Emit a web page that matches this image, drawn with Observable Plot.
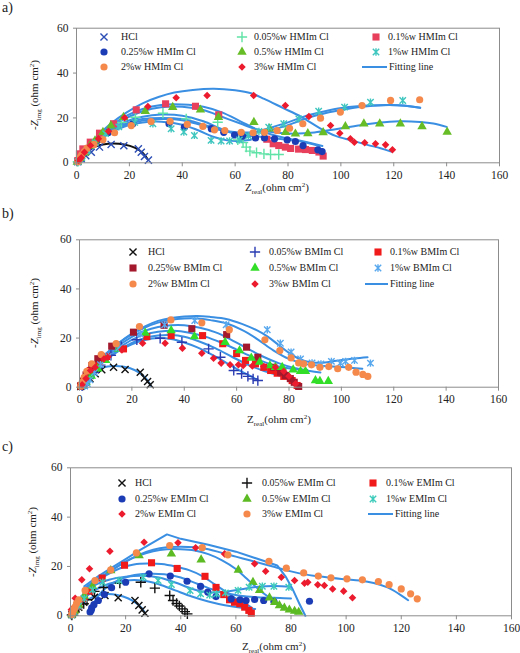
<!DOCTYPE html>
<html><head><meta charset="utf-8">
<script src="https://cdn.jsdelivr.net/npm/d3@7"></script>
<script src="https://cdn.jsdelivr.net/npm/@observablehq/plot@0.6"></script>
<style>
html,body{margin:0;padding:0;background:#fff;}
#root{position:relative;width:520px;height:653px;overflow:hidden;font-family:"Liberation Serif","Times New Roman",serif;color:#222;}
.abs{position:absolute;white-space:nowrap;}
.plab{font-size:14px;line-height:16px;}
.xt{font-size:11px;line-height:14px;transform:translateY(-50%);}
.yt{font-size:11px;line-height:14px;transform:translate(-50%,-50%) rotate(-90deg);}
.t sub{font-size:7px;vertical-align:-3px;}
.t sup{font-size:7px;vertical-align:4px;}
.leg{font-size:10px;line-height:14px;transform:translateY(-50%);}
</style></head>
<body><div id="root"></div>
<script>
// ---------- ticks ----------
const xTicks = [0,20,40,60,80,100,120,140,160];
const yTicks = [0,20,40,60];

// ---------- panel a (HMIm Cl) ----------
const a_HCl = [[0.5,0.5],[1.8,1.8],[3.5,3.2],[5.6,4.7],[8.7,7],[13.1,8.2],[17.9,7.6],[23.4,6.2],[24.5,4.7],[25.7,2.8],[27.2,1.2]];
const a_005 = [[0.5,0.5],[1.5,2],[3,4],[5,7],[8,10],[12,14],[17,18],[22.3,20.3],[32.7,22.1],[41.5,19.6],[53.4,18.1],[61,10.2],[63,9],[64.2,7],[65.6,5.2],[68.1,4.5],[70.9,4],[73.4,3.7],[76.5,3.7]];
const a_01 = [[0.5,1],[1.1,4],[2.4,6.2],[5.2,9.2],[8.7,13.2],[14,17.4],[22.6,23.6],[33.7,26.3],[45,25.2],[53.8,21.4],[72,10.5],[74.4,8.5],[76.5,7.7],[79,7],[81,6.4],[84,6.1],[86.6,5.9],[89.2,5.5],[91.7,4.8],[93.3,3]];
const a_025 = [[0.5,0.5],[1.5,2],[3,4.5],[5,7],[8,10],[12,13.5],[21.3,17.4],[35,17.4],[40.8,15.9],[51,15.2],[55.7,13.6],[59.8,12.4],[62.9,11.9],[67.7,11.1],[71.1,11.1],[74.9,10.7],[79.7,10.2],[82.8,9.5],[85.7,7.7],[91.3,5.8],[92.9,5]];
const a_05 = [[0.3,0.3],[1.5,2],[3,4.5],[5,7.5],[7,9.9],[10,13.6],[13,16.5],[17.8,20.3],[26,23],[36.4,24.8],[46.9,23.6],[53.7,20.3],[67.1,18.1],[73,15.2],[79.1,13.6],[82.8,12.9],[87.5,13.1],[93.3,13.5],[101.7,16.2],[108.7,17.4],[114.7,17.4],[122.5,17.4],[130.7,16.2],[140.2,13.7]];
const a_1 = [[0.5,0.5],[2,2.5],[4,5.5],[7,9],[11,13],[16,16],[22,18],[28.9,17.4],[35.8,15.2],[40.6,13.7],[44.6,12.2],[50.9,10],[54.7,9.7],[57.9,9.7],[61.6,10.2],[65,12],[69,14],[72.7,15.9],[78.4,17.4],[84.1,19.6],[91.6,23],[101.4,24.8],[111.2,27],[123.4,27.8]];
const a_2 = [[0.5,0.5],[1,1.5],[1.5,2.5],[2,3.5],[3,5],[4,6.5],[6.6,8.2],[10,10.3],[14.4,13.4],[20.7,16.6],[28.2,18.4],[35.4,18.5],[41.9,17.1],[47.8,16.2],[52.2,14.7],[56.1,14.4],[62.3,13.6],[66.8,13.4],[71.1,13.6],[75.9,14.4],[80.6,15.4],[85.6,17.4],[92.3,19.9],[99.8,22.6],[108,25.5],[118.8,27.8],[129.8,28.1]];
const a_3 = [[0.8,1],[1.8,2.2],[3,4.7],[5.3,7.7],[8.3,10.7],[12.1,14.1],[18.2,20.1],[27,25.1],[37.7,29],[49.4,30],[67,30],[79,25.5],[87.9,20.6],[96.1,16.6],[99.6,13.2],[103.6,10.7],[105.1,9.2],[109,8.9],[113.1,8.5],[116.9,8],[119.5,5.8]];
const fa_HCl = [[1,0.5],[3,4],[6,6.8],[10,8.2],[14,8.6],[18,8.2],[22,6.8],[25,4.5],[27,1.5]];
const fa_3 = [[0,0],[4,6.5],[8,12],[13,17.5],[19,22.5],[25,26.5],[31,29.3],[37,31.3],[44,32.5],[52,33],[60,32.3],[66,31],[71,28.5],[78,24.5],[85,20.5],[92,15.5],[98,12],[104,10],[110,8],[115,6.5],[119,5]];
const fa_01 = [[0,0],[4,6.5],[8,11.5],[13,16.5],[19,21],[25,24],[32,25.8],[40,26],[48,25],[55,22.5],[62,18.5],[68,15],[74,12.5],[80,10.8],[86,9.5],[93,7.5]];
const fa_05 = [[0,0],[4,6.5],[8,11],[13,16],[19,20],[25,23],[32,24.8],[40,25],[48,23.5],[55,20.5],[62,17.5],[68,15],[75,13.5],[82,13],[90,13.5],[98,15],[106,16.5],[114,17.8],[122,18.5],[130,18.2],[135,17.5],[140,16]];
const fa_1 = [[0,0],[4,6],[8,10.5],[13,15],[19,18.5],[25,20.5],[32,21.5],[40,21],[48,18.5],[55,15],[61,13],[67,13.5],[73,15.5],[80,18],[87,21],[94,23],[101,24.5],[110,25.5],[118,25.8],[125,25.3],[130,24.5]];
const fa_2 = [[0,0],[4,6],[8,10],[13,14],[19,17],[25,18.8],[32,19.5],[40,19],[48,16.5],[55,14.5],[62,13.5],[70,14],[78,16],[85,19],[92,21.5],[100,23.5],[108,25],[116,25.7],[124,25.5],[130,24.5]];
const fa_025 = [[0,0],[4,5.5],[8,10],[13,14.5],[19,17.5],[25,19.5],[32,20],[40,19.5],[48,17],[55,14.5],[62,12.5],[70,11.5],[78,10.5],[85,9.5],[92,7.5]];
const fa_005 = [[0,0],[4,5.5],[8,9.5],[13,13.5],[19,16.5],[25,18],[32,18.3],[40,17],[46,14.5],[52,11.5],[57,10],[62,9.8],[66,10.3]];

// ---------- panel b (BMIm Cl) ----------
const b_HCl = [[0.5,0.3],[1.5,1],[2.5,2],[4,3.5],[6,5.5],[8.5,7.1],[13,8.1],[17.4,7.2],[23.2,6.1],[24.8,3.8],[26,2.3],[27,1]];
const b_005 = [[1,0.5],[2,1.5],[3.5,3.5],[5.5,6],[8,9],[12,13],[16,16.5],[21.9,19.3],[30.8,19.9],[39.1,18.3],[49.3,15.6],[53.8,12.2],[58.9,6.8],[61.9,5.5],[64.3,4.4],[66.3,3.4],[68.1,2.7]];
const b_01 = [[0.5,0.5],[1.5,2],[2.8,4.8],[4.1,6.8],[7.3,10.2],[10.7,12.5],[16.8,15.6],[25.7,20.6],[35,21],[47,21],[54.7,17.7],[60,13.7],[63.4,10.9],[67.2,9.5],[70.4,8.1],[73,6.8],[75.5,5.7],[78,4.4],[81.2,2.7],[83.1,0.7]];
const b_025 = [[0.5,0.5],[1.5,2.5],[2.5,5],[4.7,8.8],[7,11.6],[12.3,16.7],[20.6,22.4],[32.3,25.2],[42.9,23.8],[56.2,21.4],[63.8,16.3],[68.1,12.2],[74.2,8.1],[76.8,6.1],[78.7,4.8],[80.5,3.5],[82,2],[83.7,0.3]];
const b_05 = [[1,0.5],[2.5,2],[4.5,4.5],[7,7.5],[10,11],[15,15.5],[25.1,22.1],[35,23.1],[43.9,20.6],[55.6,18.3],[61.1,14.9],[65.6,11.9],[68.8,10.2],[72.7,8.8],[74.8,8.1],[77.4,8.1],[81.6,7.1],[84.4,6.5],[86.3,6.5],[90.1,2.7],[91.8,2.4],[95,2.4]];
const b_1 = [[2,0.5],[3,1.5],[4,3],[5.7,6],[8,9.2],[11,12.5],[15,16],[23.2,21.7],[32.5,25.4],[44,27.1],[56,25.4],[71.7,23.4],[76.7,17.9],[80.8,14.3],[84.4,11.5],[88.8,9.9],[92.2,9.5],[96.2,10.5],[99.6,9.8],[101.6,10.5],[105,10.9],[111.1,9.8]];
const b_2 = [[0.5,0.5],[1,2],[1.8,4],[2.8,6.5],[4.7,9.5],[8.3,13.3],[14,17.7],[22.9,24.7],[34.9,27.4],[46.7,26.2],[57.2,23.4],[70.8,19.3],[76.5,14.9],[80.8,11.9],[83.7,9.9],[85.6,9.5],[88.6,9.1],[91.8,8.1],[95.2,8.4],[98.6,7.5],[102.8,8.1],[105.6,6.1],[108.2,5.2],[110.1,4.4]];
const b_3 = [[1,1],[2.5,3.5],[4.2,6.8],[6,8.1],[9.3,11.5],[10.8,12.2],[16.2,15.2],[24.1,17.9],[32.7,17.9],[39.3,15.9],[46.7,13.8],[51.2,11.8],[54.1,9.8],[57.5,9.1],[60.7,9.1],[62.5,8.8],[66,8.6],[70.4,8.4],[74.8,8.1],[78,6.5],[80,4.5],[82.5,1.4]];
const fb_HCl = [[1.5,0],[3,3],[5.5,6],[9,8],[13,8.6],[17,8.3],[21,7],[24,5],[26,2.8],[27.3,0.5]];
const fb_1 = [[0,0],[2,3],[5,8],[10,13.5],[15,18],[20,21.8],[25,24.8],[30,27],[35,28.2],[40,28.8],[45,29],[50,28.6],[56,27.8],[62,25.8],[68,23],[72,20.5],[76,17.2],[80,14],[84,11.5],[88,10.2],[93,10],[99,10.9],[105,11.7],[110,12.2]];
const fb_2 = [[0,0],[2,3.5],[5,8.5],[10,13.5],[15,18],[20,21.5],[25,24.3],[30,26.3],[35,27.5],[40,28],[45,28],[50,27.3],[56,26],[62,23.3],[68,19.5],[74,15],[80,11.5],[86,9.5],[92,8.7],[100,8.2],[108,7.5]];
const fb_025 = [[0,0],[2,3.5],[5,8],[10,13],[15,17],[20,20.5],[25,23],[30,24.5],[35,25.2],[40,25.2],[46,24.2],[52,22.3],[58,19.3],[64,15.8],[70,12.5],[76,9.8],[82,7.8],[88,6.6],[92,6]];
const fb_05 = [[0,0],[2,3],[5,7.5],[10,12.3],[15,16],[20,19.3],[25,21.5],[30,22.6],[36,23],[42,22.2],[48,20.6],[54,18.2],[60,15.3],[66,12.3],[72,9.7],[78,8],[84,7.2],[87,7]];
const fb_01 = [[0,0],[2,3],[5,7],[10,11.5],[15,15],[20,18],[25,20],[30,21],[35,21.2],[40,20.5],[46,18.5],[52,15.8],[58,12.5],[64,9.3],[70,6.8],[76,4.8],[80,3.5]];
const fb_005 = [[0,0],[2,2.8],[5,6.5],[10,11],[15,14.8],[20,17.5],[25,19.2],[30,20],[35,19.6],[40,18.2],[45,16.2],[50,13.6],[55,10.6],[60,7.5],[64,5.2],[68,3]];

// ---------- panel c (EMIm Cl) ----------
const c_HCl = [[0.5,0.5],[1.5,1.5],[3,3.5],[4.8,5.5],[8.7,7.5],[12.5,8.2],[17.3,7.3],[23.4,6.2],[24.8,4.2],[26,2.4],[27,1]];
const c_005 = [[0.5,0.3],[1.5,1.5],[3,3.5],[4.8,4.9],[6,6.5],[8.7,9.9],[12,11.5],[17.9,13.2],[25.5,13.6],[30.6,11.2],[36,8.2],[37.2,6.2],[38.5,5],[39.5,4],[40.5,2.8],[41.5,1.7],[42.4,0.8]];
const c_01 = [[0.5,0.5],[1.5,2],[3,4],[5,7],[7,10],[11.5,15.3],[19.6,20.5],[29.4,21.5],[38.7,19.2],[48.8,16],[52.8,11.5],[55.6,8.6],[57.7,6.5],[59.5,5.5],[61.4,4.9],[63.2,3.5],[64.7,2.2],[65.6,1.1]];
const c_025 = [[7.1,1.5],[7.5,2.2],[7.7,3.2],[8.5,4.5],[10.1,6.2],[12.3,8.6],[14.9,11.4],[20,13.6],[28.5,17],[36.2,16.1],[42.3,14],[47.2,11.9],[49.8,9.6],[52.8,7.8],[58.3,6.9],[61.5,6.5],[63.7,6.2],[66.8,6.6],[70.1,6.2],[73.8,5.8],[86.7,5.9]];
const c_05 = [[0.5,0.5],[1.5,2],[3,4.5],[5,8],[8,12],[14.6,18.4],[24.9,24.4],[36.6,25.1],[47.4,22.7],[60.9,18.6],[66.2,13.6],[68.6,10.3],[72.2,7.3],[74.1,5.5],[75.8,4.2],[77.6,3.2],[79.4,2.4],[81.3,1.9],[82.8,1.5]];
const c_1 = [[0.5,0.3],[1.5,1.5],[3,4],[5,7],[8,10.5],[11.7,13.6],[17.6,14.3],[26.4,15.6],[31.8,14.3],[36.6,12.7],[43.4,10.2],[47.2,8.9],[50.5,8.4],[53,8.9],[56.2,9.3],[60.8,10.3],[64.8,11.6],[69.6,12],[73.8,12],[79.2,11.6]];
const c_2 = [[0.3,2.5],[1.1,3.2],[1.7,7.1],[4.1,14.6],[6.9,19.1],[14.3,26.2],[26.7,29.8],[39,29.6],[45.4,27.6],[55.9,25.1],[66.8,21.1],[70.8,18.1],[76.5,15.6],[81.3,14.3],[84.9,13.2],[86.1,13.6],[89.7,12.6],[92.1,12.3],[95.1,10.9],[99.1,10],[102.3,7.3]];
const c_3 = [[0.5,0.5],[0.8,1.5],[1.2,2.5],[1.6,3.5],[2.2,5],[3,6.5],[5.3,10.3],[8.9,14.3],[14.6,18.6],[23.9,25.5],[36,28.5],[47.8,27.6],[57.1,24.7],[72,22.1],[78.3,19.3],[84.6,17.4],[89.9,16.1],[94.5,15.4],[100.3,15],[105.9,14.6],[111.7,13.9],[115.6,12.6],[120,10.9],[123.4,8.9],[125.8,6.9]];
const fc_HCl = [[2,1],[4,4.5],[7,7],[10,8.3],[13.5,8.8],[17,8.4],[21,7],[24,5],[26,3],[27,1.2]];
const fc_2 = [[5,12],[10,16],[15,19.5],[20,23],[25,26.5],[30,29.8],[35,33],[40,31.2],[50,28.8],[60,26],[70,22.3],[75,20.4],[78,16],[80.5,11],[83,5],[85.2,0]];
const fc_3 = [[5,11],[10,15],[15,18.5],[20,22],[25,24.8],[30,26.8],[35,27.8],[40,28],[45,27.8],[50,27],[55,25.5],[60,24],[65,22.5],[70,21],[75,19.5],[80,18],[85,16.8],[90,16],[95,15.3],[100,14.8],[105,14.3],[110,13.3],[115,11.5],[119,9],[122.5,6.3]];
const fc_05 = [[5,11],[10,15],[15,18.5],[20,22],[25,24.5],[30,26.2],[35,27],[40,27],[45,26.5],[50,25],[55,22.5],[60,19],[64,15],[68,11],[72,7.5],[76,4.5],[80,2],[82,1]];
const fc_01 = [[4,8],[8,12.5],[13,16.5],[18,19.3],[23,20.8],[28,21.2],[33,21],[38,20],[43,18.5],[48,16],[52,13],[56,10],[60,7],[64,4.5],[66,3]];
const fc_025 = [[7,0.5],[8,4],[10,8],[13,11.5],[17,14.2],[22,16.2],[28,17],[34,16.8],[40,15.5],[46,13],[52,10.5],[58,8.8],[64,7.8],[70,7.4],[76,7.2],[80,7]];
const fc_1 = [[2,4],[5,9],[9,12.5],[14,14.6],[20,15.8],[26,16.2],[32,15.5],[38,13.5],[44,11],[50,9.5],[56,9.7],[62,10.8],[68,11.8],[74,12.1],[80,11.8]];
const fc_005 = [[2,3],[5,7],[9,10.5],[14,13],[20,14.3],[26,14.3],[32,12.8],[38,10.3],[44,7.8],[50,5.8],[56,4.3],[62,3.3],[67,2.8]];

// ---------- symbols ----------
const starSym = {draw(ctx, size){const s=Math.sqrt(size/Math.PI);ctx.moveTo(-s,-s);ctx.lineTo(s,s);ctx.moveTo(-s,s);ctx.lineTo(s,-s);ctx.moveTo(0,-s*1.15);ctx.lineTo(0,s*1.15);}};
const SYM = {
  times:{plot:"times", d3:d3.symbolTimes, r:3.3, stroke:true},
  plus:{plot:"plus", d3:d3.symbolPlus, r:3.4, stroke:true},
  star:{plot:starSym, d3:starSym, r:3.2, stroke:true},
  square:{plot:"square", d3:d3.symbolSquare, r:4.0},
  circle:{plot:"circle", d3:d3.symbolCircle, r:3.6},
  triangle:{plot:"triangle", d3:d3.symbolTriangle, r:3.5},
  diamond:{plot:"diamond2", d3:d3.symbolDiamond2, r:3.4}
};
const FIT = "#3b8fe3";
const FONT = '"Liberation Serif","Times New Roman",serif';

const panels = [
  {label:"a)", labelTop:0, top:0, h:200, mt:27.7, mb:37.7, ml:76, mr:21,
   xTitle:{x:245, y:188}, yTitle:{x:35, y:95},
   legend:{rows:[37,52,67], symX:[104,242,376], textX:[121,254,388], line:[362,387]},
   fits:[{d:fa_HCl,c:"#111"},{d:fa_005},{d:fa_025},{d:fa_2},{d:fa_1},{d:fa_05},{d:fa_01},{d:fa_3}],
   series:[
    {name:"HCl", d:a_HCl, sym:"times", c:"#2b4db5"},
    {name:"0.05%w HMIm Cl", d:a_005, sym:"plus", c:"#5fe3a6"},
    {name:"0.1%w HMIm Cl", d:a_01, sym:"square", c:"#e8405c"},
    {name:"0.25%w HMIm Cl", d:a_025, sym:"circle", c:"#1c3cb6"},
    {name:"0.5%w HMIm Cl", d:a_05, sym:"triangle", c:"#66bd26"},
    {name:"1%w HMIm Cl", d:a_1, sym:"star", c:"#3ec6bf"},
    {name:"2%w HMIm Cl", d:a_2, sym:"circle", c:"#f5894c"},
    {name:"3%w HMIm Cl", d:a_3, sym:"diamond", c:"#ec1c2e"}]},
  {label:"b)", labelTop:206, top:210, h:200, mt:29.3, mb:23.3, ml:79, mr:22,
   xTitle:{x:247, y:420}, yTitle:{x:35, y:313},
   legend:{rows:[252,268,284], symX:[133,255,378], textX:[148,269,390], line:[365,388]},
   fits:[{d:fb_HCl},{d:fb_005},{d:fb_01},{d:fb_05},{d:fb_025},{d:fb_2},{d:fb_1}],
   series:[
    {name:"HCl", d:b_HCl, sym:"times", c:"#111"},
    {name:"0.05%w BMIm Cl", d:b_005, sym:"plus", c:"#2a3cb2"},
    {name:"0.1%w BMIm Cl", d:b_01, sym:"square", c:"#f01a1a"},
    {name:"0.25%w BMIm Cl", d:b_025, sym:"square", c:"#a3182c"},
    {name:"0.5%w BMIm Cl", d:b_05, sym:"triangle", c:"#33de28"},
    {name:"1%w BMIm Cl", d:b_1, sym:"star", c:"#58a8ee"},
    {name:"2%w BMIm Cl", d:b_2, sym:"circle", c:"#f5894c"},
    {name:"3%w BMIm Cl", d:b_3, sym:"diamond", c:"#ec1c2e"}]},
  {label:"c)", labelTop:439, top:430, h:210, mt:37.3, mb:24.7, ml:70, mr:9,
   xTitle:{x:242, y:647}, yTitle:{x:33, y:542},
   legend:{rows:[483,499,514], symX:[122,247,373], textX:[135,262,386], line:[368,393]},
   fits:[{d:fc_HCl},{d:fc_005},{d:fc_025},{d:fc_1},{d:fc_01},{d:fc_05},{d:fc_3},{d:fc_2,curve:"linear"}],
   series:[
    {name:"HCl", d:c_HCl, sym:"times", c:"#111"},
    {name:"0.05%w EMIm Cl", d:c_005, sym:"plus", c:"#111"},
    {name:"0.1%w EMIm Cl", d:c_01, sym:"square", c:"#f01a1a"},
    {name:"0.25%w EMIm Cl", d:c_025, sym:"circle", c:"#1c3cb6"},
    {name:"0.5%w EMIm Cl", d:c_05, sym:"triangle", c:"#5cba22"},
    {name:"1%w EMIm Cl", d:c_1, sym:"star", c:"#3dcbbb"},
    {name:"2%w EMIm Cl", d:c_2, sym:"diamond", c:"#ec1c2e"},
    {name:"3%w EMIm Cl", d:c_3, sym:"circle", c:"#f5894c"}]}
];

const root = document.getElementById("root");
function add(html, cls, left, top){const e=document.createElement("div");e.className="abs "+cls;e.style.left=left+"px";e.style.top=top+"px";e.innerHTML=html;root.appendChild(e);return e;}

for (const p of panels) {
  const marks = [];
  for (const f of p.fits) marks.push(Plot.line(f.d, {x:d=>d[0], y:d=>d[1], stroke:f.c||FIT, strokeWidth:2, curve:f.curve||"catmull-rom"}));
  for (const s of p.series) {
    const S = SYM[s.sym];
    marks.push(Plot.dot(s.d, {x:d=>d[0], y:d=>d[1], symbol:S.plot, r:S.r,
      fill: S.stroke ? "none" : s.c, stroke: S.stroke ? s.c : "none", strokeWidth: S.stroke ? 1.4 : 0}));
  }
  marks.push(Plot.frame({stroke:"#8c8c8c", strokeWidth:1}));
  marks.push(Plot.axisX(xTicks, {tickSize:4, tickPadding:4, stroke:"#8c8c8c", fill:"#222", label:null, fontFamily:FONT, fontSize:11.5}));
  marks.push(Plot.axisY(yTicks, {tickSize:3, tickPadding:5, stroke:"#8c8c8c", fill:"#222", label:null, fontFamily:FONT, fontSize:11.5}));
  const svg = Plot.plot({
    width:520, height:p.h, marginTop:p.mt, marginBottom:p.mb, marginLeft:p.ml, marginRight:p.mr,
    x:{domain:[0,160]}, y:{domain:[0,60]},
    style:{fontFamily:FONT, fontSize:"11.5px", background:"transparent", overflow:"visible"},
    marks
  });
  const wrap = document.createElement("div");
  wrap.className="abs"; wrap.style.left="0px"; wrap.style.top=p.top+"px";
  wrap.appendChild(svg); root.appendChild(wrap);

  add(p.label, "plab", 2, p.labelTop);
  add('<span class="t">Z<sub>real</sub>(ohm cm<sup>2</sup>)</span>', "xt", p.xTitle.x, p.xTitle.y);
  add('<span class="t">-<i>Z</i><sub>img</sub> (ohm cm<sup>2</sup>)</span>', "yt", p.yTitle.x, p.yTitle.y);

  // legend (3 x 3 grid)
  const L = p.legend;
  const items = p.series.map(s=>({kind:"sym", s})).concat([{kind:"fit"}]);
  items.forEach((it,i)=>{
    const row = Math.floor(i/3), col = i%3, cy = L.rows[row];
    if (it.kind==="fit") {
      const x1=L.line[0], x2=L.line[1];
      add(`<svg width="${x2-x1}" height="4" style="display:block"><line x1="0" y1="2" x2="${x2-x1}" y2="2" stroke="${FIT}" stroke-width="2"/></svg>`, "", x1, cy-2);
      add("Fitting line", "leg", x2+2, cy);
    } else {
      const S = SYM[it.s.sym];
      const path = d3.symbol(S.d3, Math.PI*S.r*S.r)();
      const style = S.stroke ? `fill="none" stroke="${it.s.c}" stroke-width="1.4"` : `fill="${it.s.c}"`;
      add(`<svg width="16" height="16" style="display:block;overflow:visible"><path transform="translate(8,8)" d="${path}" ${style}/></svg>`, "", L.symX[col]-8, cy-8);
      add(it.s.name, "leg", L.textX[col], cy);
    }
  });
}
</script></body></html>
